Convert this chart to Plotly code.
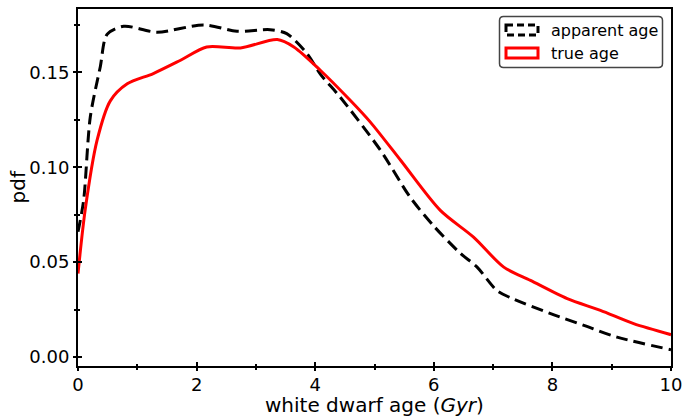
import plotly.graph_objects as go

# ---- data ----
apparent_x = [0.0, 0.095, 0.207, 0.376, 0.49, 0.77, 1.33, 2.12, 2.68, 3.24, 3.52, 3.86, 4.09,
              4.42, 5.1, 5.6, 6.0, 6.45, 6.73, 7.06, 7.29, 7.97, 8.53, 9.09, 10.0]
apparent_y = [0.066, 0.0826, 0.1265, 0.153, 0.170, 0.1743, 0.1712, 0.1750, 0.1717, 0.1725, 0.1704,
              0.160, 0.149, 0.137, 0.109, 0.0843, 0.069, 0.0546, 0.0474, 0.0352, 0.0313, 0.0229,
              0.0167, 0.0105, 0.0039]
true_x = [0.0, 0.12, 0.32, 0.545, 0.83, 1.27, 1.73, 2.17, 2.74, 3.36, 3.64, 4.09, 4.59, 4.93,
          5.44, 6.11, 6.67, 7.18, 7.63, 8.25, 8.81, 9.37, 10.0]
true_y = [0.044, 0.0773, 0.114, 0.135, 0.144, 0.1494, 0.1564, 0.1634, 0.1629, 0.1673, 0.1634,
          0.151, 0.1353, 0.1238, 0.1037, 0.0773, 0.0632, 0.0474, 0.0404, 0.0308, 0.0246,
          0.0176, 0.0118]
series_names = ["apparent age", "true age"]
x_title = "white dwarf age (<i>Gyr</i>)"
y_title = "pdf"

W, H = 698, 416
ML, MR, MT, MB = 78, 27, 9, 50
PW, PH = W - ML - MR, H - MT - MB
FONT = "DejaVu Sans"


def px(xp):
    return (xp - ML) / PW


def py(yp):
    return (H - MB - yp) / PH


fig = go.Figure()
fig.add_trace(go.Scatter(x=apparent_x, y=apparent_y, mode="lines", name=series_names[0],
                         line=dict(color="black", width=3, dash="12px,6px", shape="spline",
                                   smoothing=0.8),
                         showlegend=False))
fig.add_trace(go.Scatter(x=true_x, y=true_y, mode="lines", name=series_names[1],
                         line=dict(color="#ff0000", width=3, shape="spline", smoothing=0.8),
                         showlegend=False))

xr = [0, 10]
yr = [-0.0047, 0.1834]
tickfont = dict(family=FONT, size=18, color="black")

fig.update_layout(
    width=W, height=H, margin=dict(l=ML, r=MR, t=MT, b=MB),
    plot_bgcolor="white", paper_bgcolor="white",
    font=dict(family=FONT, size=18, color="black"),
    xaxis=dict(range=xr, showgrid=False, zeroline=False, showline=True, linecolor="black",
               linewidth=2, mirror=True, ticks="outside", ticklen=3, tickwidth=2,
               tickcolor="black", dtick=2, tick0=0, tickfont=tickfont, automargin=False,
               ticklabelstandoff=-2,
               minor=dict(ticks="outside", ticklen=2, tickwidth=1.5, dtick=1, tickcolor="black")),
    yaxis=dict(range=yr, showgrid=False, zeroline=False, showline=True, linecolor="black",
               linewidth=2, mirror=True, ticks="outside", ticklen=3, tickwidth=2,
               tickcolor="black", dtick=0.05, tick0=0, tickformat=".2f", tickfont=tickfont,
               automargin=False,
               minor=dict(ticks="outside", ticklen=2, tickwidth=1.5, dtick=0.025, tickcolor="black")),
    xaxis2=dict(range=xr, overlaying="x", anchor="y", showgrid=False, zeroline=False,
                showline=False, showticklabels=False, ticks="inside", ticklen=4, tickwidth=2,
                tickcolor="black", dtick=2, tick0=0, automargin=False,
                minor=dict(ticks="inside", ticklen=2, tickwidth=1.5, dtick=1, tickcolor="black")),
    yaxis2=dict(range=yr, overlaying="y", anchor="x", side="left", showgrid=False,
                zeroline=False, showline=False, showticklabels=False, ticks="inside", ticklen=4,
                tickwidth=2, tickcolor="black", dtick=0.05, tick0=0, automargin=False,
                minor=dict(ticks="inside", ticklen=2, tickwidth=1.5, dtick=0.025,
                           tickcolor="black")),
)
# invisible trace to activate overlay axes
fig.add_trace(go.Scatter(x=[None], y=[None], xaxis="x2", yaxis="y2", showlegend=False,
                         hoverinfo="skip"))

# ---- axis titles ----
fig.add_annotation(text=x_title, xref="paper", yref="paper", x=0.5, y=py(417.5),
                   xanchor="center", yanchor="bottom", showarrow=False, borderpad=0,
                   font=dict(family=FONT, size=20, color="black"))
fig.add_annotation(text=y_title, xref="paper", yref="paper", x=px(17), y=0.5,
                   xanchor="center", yanchor="middle", showarrow=False, textangle=-90,
                   font=dict(family=FONT, size=20, color="black"))

# ---- custom legend (matplotlib-style patch legend) ----
bx0, bx1, by0, by1 = 499.5, 662.5, 16.5, 67.5
r = 4
path = (f"M {px(bx0 + r)},{py(by0)} L {px(bx1 - r)},{py(by0)} "
        f"Q {px(bx1)},{py(by0)} {px(bx1)},{py(by0 + r)} "
        f"L {px(bx1)},{py(by1 - r)} Q {px(bx1)},{py(by1)} {px(bx1 - r)},{py(by1)} "
        f"L {px(bx0 + r)},{py(by1)} Q {px(bx0)},{py(by1)} {px(bx0)},{py(by1 - r)} "
        f"L {px(bx0)},{py(by0 + r)} Q {px(bx0)},{py(by0)} {px(bx0 + r)},{py(by0)} Z")
fig.add_shape(type="path", path=path, xref="paper", yref="paper",
              line=dict(color="#444444", width=1.5), fillcolor="rgba(255,255,255,0.8)")
fig.add_shape(type="rect", xref="paper", yref="paper", x0=px(506), x1=px(538), y0=py(25),
              y1=py(35), line=dict(color="black", width=3, dash="7px,4px"))
fig.add_shape(type="rect", xref="paper", yref="paper", x0=px(506), x1=px(538), y0=py(48),
              y1=py(58), line=dict(color="#ff0000", width=3))
for name, yc in zip(series_names, [30.5, 53.0]):
    fig.add_annotation(text=name, xref="paper", yref="paper", x=px(549), y=py(yc),
                       xanchor="left", yanchor="middle", showarrow=False,
                       font=dict(family=FONT, size=16, color="black"))

fig.write_html("out.html")
